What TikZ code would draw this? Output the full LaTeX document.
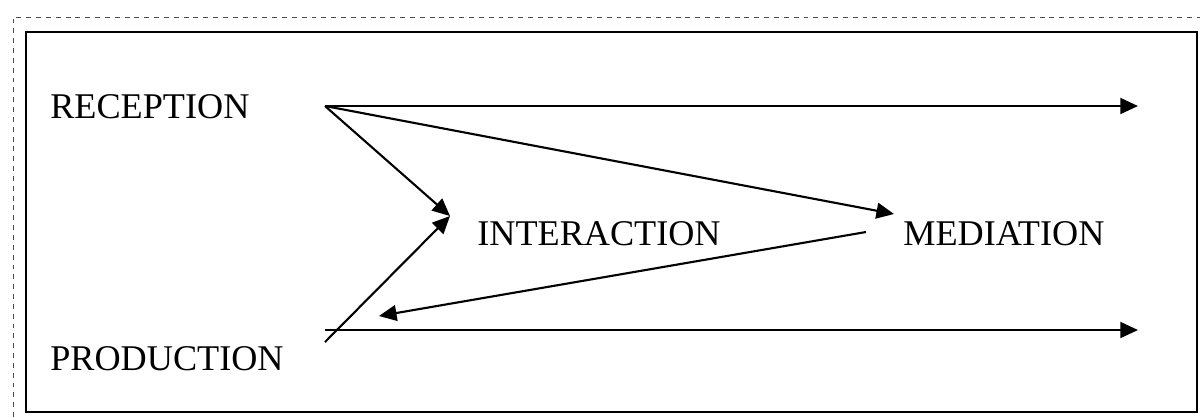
\documentclass[tikz,border=0pt]{standalone}
\usepackage{fontspec}
\setmainfont{Liberation Serif}
\usetikzlibrary{arrows.meta}

\begin{document}
\begin{tikzpicture}[x=0.02cm,y=-0.02cm,
  label/.style={anchor=base west,inner sep=0pt,font=\fontsize{20.6}{24}\selectfont},
  flow/.style={line width=1.2pt,-{Triangle[length=10pt,width=9pt]}}]
\useasboundingbox (0,0) rectangle (1200,417);
\draw[dash pattern=on 2.8pt off 2.8pt,gray!60!black,line width=0.5pt] (13,417) -- (13,17) -- (1200,17);
\draw[line width=1.2pt] (26,32) rectangle (1197,412);

\node[label] (reception) at (50,118) {RECEPTION};
\node[label] (interaction) at (477,245) {INTERACTION};
\node[label] (mediation) at (903,245) {MEDIATION};
\node[label] (production) at (50,370) {PRODUCTION};

\coordinate (recout) at (325,106);
\coordinate (recend) at (1138,106);
\coordinate (intin) at (450,216);
\coordinate (medin) at (894,214);
\coordinate (medout) at (866,232);
\coordinate (intback) at (379,316);
\coordinate (prodout) at (325,342);
\coordinate (prodline) at (325,330);
\coordinate (prodend) at (1138,330);

\foreach \from/\to in {recout/recend, recout/medin, recout/intin, prodout/intin, medout/intback, prodline/prodend}
	\draw[flow] (\from) -- (\to);

\end{tikzpicture}
\end{document}
